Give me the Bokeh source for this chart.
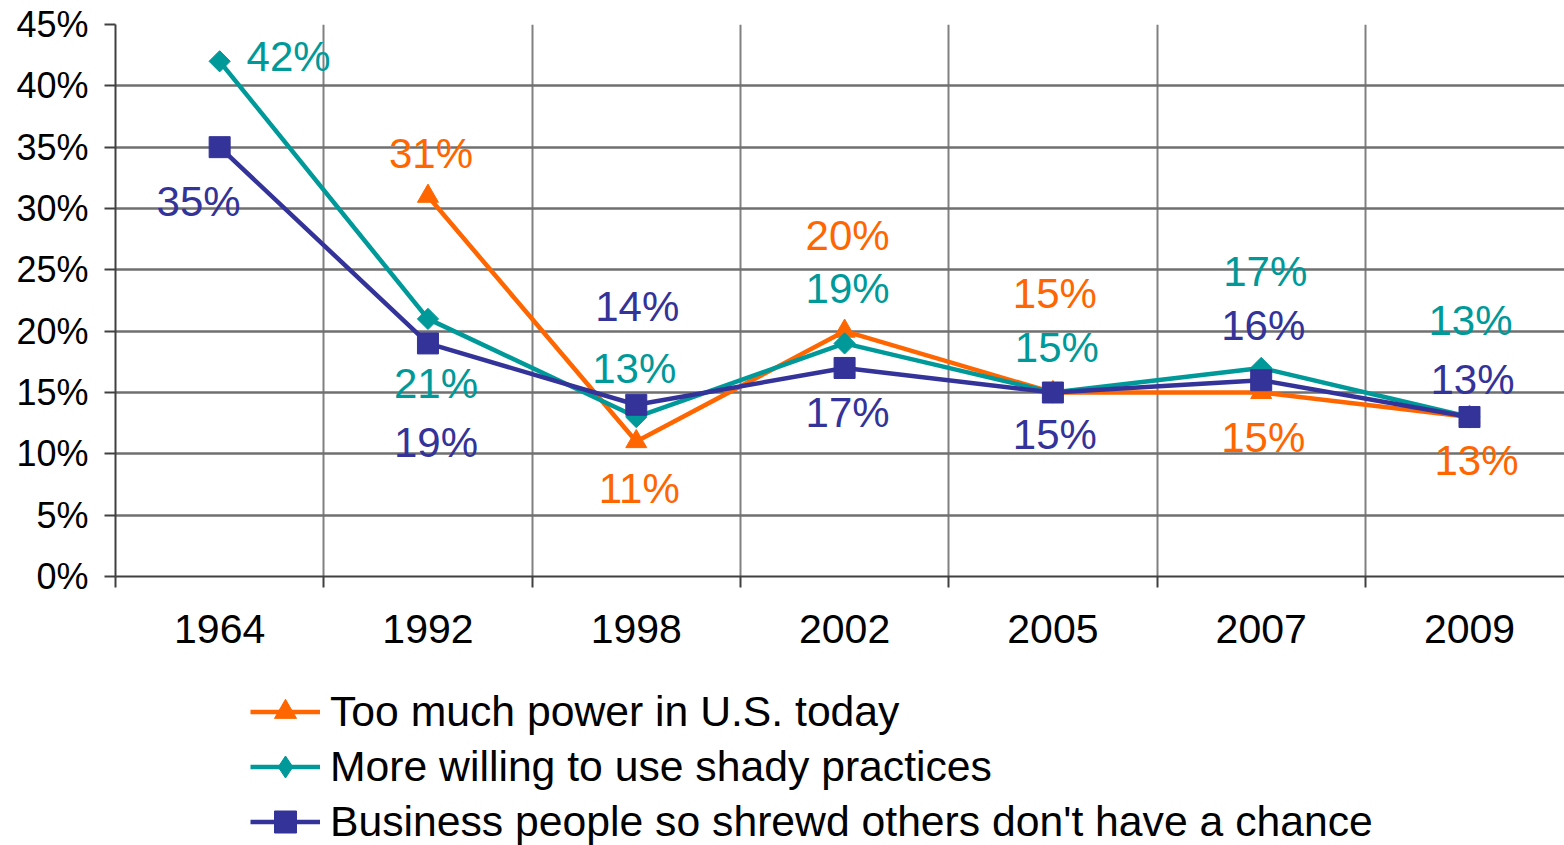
import numpy as np
from bokeh.plotting import figure
from bokeh.layouts import column
from bokeh.models import (FixedTicker, PrintfTickFormatter, Range1d, Legend,
                          LegendItem, ColumnDataSource)
from bokeh.core.properties import value
from bokeh.embed import file_html
from bokeh.resources import INLINE

years = ["1964", "1992", "1998", "2002", "2005", "2007", "2009"]
power = [None, 31, 11, 20, 15, 15, 13]
shady = [42, 21, 13, 19, 15, 17, 13]
shrewd = [35, 19, 14, 17, 15, 16, 13]

names = ["Too much power in U.S. today",
         "More willing to use shady practices",
         "Business people so shrewd others don't have a chance"]
colors = ["#FF6600", "#009999", "#333399"]

# label offsets (screen px) relative to each point
power_off = [(0, 0), (3, -43), (3, 47), (3, -96), (2, -99), (2, 45), (7, 43)]
shady_off = [(69, -5), (8, 65), (-2, -49), (3, -55), (4, -45), (4, -96), (1, -97)]
shrewd_off = [(-21, 54), (8, 99), (1, -98), (3, 45), (2, 42), (2, -55), (3, -38)]

FONT = "Liberation Sans"

p = figure(width=1564, height=655, output_backend="svg", toolbar_location=None,
           x_range=Range1d(-0.5, 6.456), y_range=Range1d(0, 45),
           min_border_left=115, min_border_top=24, min_border_right=0,
           min_border_bottom=79)
p.outline_line_color = None

bounds = [i - 0.5 for i in range(len(years) + 1)]

# x axis
p.xaxis.ticker = FixedTicker(ticks=list(range(len(years))), minor_ticks=bounds)
p.xaxis.major_label_overrides = {i: y for i, y in enumerate(years)}
p.xaxis.major_tick_out = 0
p.xaxis.major_tick_in = 0
p.xaxis.minor_tick_out = 11
p.xaxis.minor_tick_in = 0
p.xaxis.minor_tick_line_color = "#404040"
p.xaxis.minor_tick_line_width = 2
p.xaxis.axis_line_color = "#404040"
p.xaxis.axis_line_width = 2
p.xaxis.major_label_text_font = FONT
p.xaxis.major_label_text_font_size = "41px"
p.xaxis.major_label_text_color = "black"
p.xaxis.major_label_standoff = 27

# y axis
p.yaxis.ticker = FixedTicker(ticks=list(range(0, 46, 5)), minor_ticks=[])
p.yaxis.formatter = PrintfTickFormatter(format="%d%%")
p.yaxis.major_tick_out = 11
p.yaxis.major_tick_in = 0
p.yaxis.major_tick_line_color = "#404040"
p.yaxis.major_tick_line_width = 2
p.yaxis.axis_line_color = "#404040"
p.yaxis.axis_line_width = 2
p.yaxis.major_label_text_font = FONT
p.yaxis.major_label_text_font_size = "36px"
p.yaxis.major_label_text_color = "black"
p.yaxis.major_label_standoff = 16

# grids
p.xgrid.ticker = FixedTicker(ticks=bounds)
p.xgrid.grid_line_color = "#808080"
p.xgrid.grid_line_width = 2
p.ygrid.ticker = FixedTicker(ticks=list(range(0, 46, 5)))
p.ygrid.grid_line_color = "#707070"
p.ygrid.grid_line_width = 2.5

# (values, label offsets, plot marker, size, angle, legend marker)
series = [(power, power_off, "triangle", 21, 0.0, "triangle"),
          (shady, shady_off, "square", 15, np.pi / 4, "diamond"),
          (shrewd, shrewd_off, "square", 21, 0.0, "square")]

# legend in its own strip below the chart
q = figure(width=1564, height=190, output_backend="svg", toolbar_location=None,
           x_range=Range1d(0, 1), y_range=Range1d(0, 1),
           min_border=0, min_border_left=0, min_border_right=0,
           min_border_top=0, min_border_bottom=0)
q.axis.visible = False
q.grid.visible = False
q.outline_line_color = None

items = []
for (vals, offs, marker, size, ang, lmarker), col, name in zip(series, colors, names):
    xs = [i for i, v in enumerate(vals) if v is not None]
    ys = [v for v in vals if v is not None]
    dx = [offs[i][0] for i in xs]
    dy = [offs[i][1] for i in xs]
    src = ColumnDataSource(dict(x=xs, y=ys, lab=[f"{v}%" for v in ys], dx=dx, dy=dy))
    p.line("x", "y", source=src, line_color=col, line_width=4.5)
    p.scatter("x", "y", source=src, marker=marker, size=size, angle=ang,
              fill_color=col, line_color=col)
    p.text("x", "y", text="lab", source=src, x_offset="dx", y_offset="dy",
           text_align="center", text_baseline="middle",
           text_font=value(FONT), text_font_size="42px", text_color=col)
    # legend-only renderers (kept outside the visible range of the strip)
    hidden = ColumnDataSource(dict(x=[-10, -11], y=[-10, -11]))
    l1 = q.line("x", "y", source=hidden, line_color=col, line_width=4.5)
    l2 = q.scatter("x", "y", source=hidden, marker=lmarker, size=size,
                   fill_color=col, line_color=col)
    items.append(LegendItem(label=name, renderers=[l1, l2]))

legend = Legend(items=items, location=(135, -4), orientation="vertical",
                glyph_width=70, glyph_height=55, label_height=55, spacing=0,
                label_standoff=10, padding=0, margin=0,
                label_text_font=FONT, label_text_font_size="42.7px",
                label_text_color="black", border_line_color=None,
                background_fill_alpha=0)
q.add_layout(legend, "center")

layout = column(p, q, spacing=0)
open("out.html", "w").write(file_html(layout, INLINE))
